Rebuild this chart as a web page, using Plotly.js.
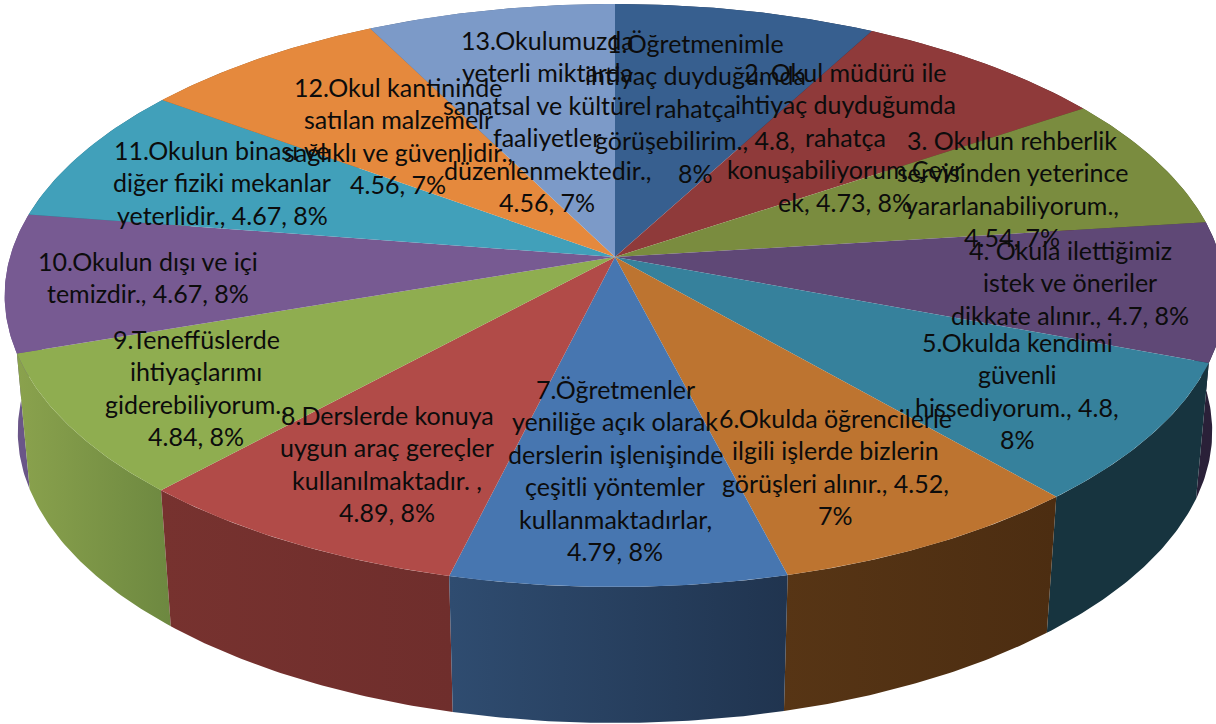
<!DOCTYPE html>
<html>
<head>
<meta charset="utf-8">
<script src="https://cdn.plot.ly/plotly-3.0.1.min.js"></script>
<style>html,body{margin:0;padding:0;background:#fff}#chart{width:1216px;height:724px}</style>
</head>
<body>
<div id="chart"></div>
<script>
// Data
const values = [4.8, 4.73, 4.54, 4.7, 4.8, 4.52, 4.79, 4.89, 4.84, 4.67, 4.67, 4.56, 4.56];
const labelLines = [
  ["1.Öğretmenimle", "ihtiyaç duyduğumda", "rahatça", "görüşebilirim., 4.8,", "8%"],
  ["2. Okul müdürü ile", "ihtiyaç duyduğumda", "rahatça", "konuşabiliyorum.Çeyr", "ek, 4.73, 8%"],
  ["3. Okulun rehberlik", "servisinden yeterince", "yararlanabiliyorum.,", "4.54, 7%"],
  ["4. Okula ilettiğimiz", "istek ve öneriler", "dikkate alınır., 4.7, 8%"],
  ["5.Okulda kendimi", "güvenli", "hissediyorum., 4.8,", "8%"],
  ["6.Okulda öğrencilerle", "ilgili işlerde bizlerin", "görüşleri alınır., 4.52,", "7%"],
  ["7.Öğretmenler", "yeniliğe açık olarak", "derslerin işlenişinde", "çeşitli yöntemler", "kullanmaktadırlar,", "4.79, 8%"],
  ["8.Derslerde konuya", "uygun araç gereçler", "kullanılmaktadır. ,", "4.89, 8%"],
  ["9.Teneffüslerde", "ihtiyaçlarımı", "giderebiliyorum.,", "4.84, 8%"],
  ["10.Okulun dışı ve içi", "temizdir., 4.67, 8%"],
  ["11.Okulun binası ve", "diğer fiziki mekanlar", "yeterlidir., 4.67, 8%"],
  ["12.Okul kantininde", "satılan malzemelr", "sağlıklı ve güvenlidir.,", "4.56, 7%"],
  ["13.Okulumuzda", "yeterli miktarda", "sanatsal ve kültürel", "faaliyetler", "düzenlenmektedir.,", "4.56, 7%"]
];
const topColors = ["#375f8f","#8f3a3a","#7a8c3f","#5f4876","#36819c","#bd7430","#4776b0","#b14b48","#8fad50","#775a92","#41a0ba","#e5893d","#7c9ac8"];
const wallLeft  = ["#1f3350","#5c2626","#4f5b29","#2a2038","#17343f","#573515","#2f4c70","#77322f","#8aa24d","#6a5688","#2b6b7d","#9a5c28","#53688a"];
const wallRight = ["#1f3350","#5c2626","#4f5b29","#2a2038","#17343f","#4c2d11","#20344f","#6f2e2c","#6d8840","#6a5688","#2b6b7d","#9a5c28","#53688a"];

// Label anchors
const labelX = [695, 845, 1012, 1070, 1017, 835, 615, 387, 196, 148, 222, 398, 547];
const labelFirstY = [43, 72, 140, 250, 342, 418, 389, 415, 339, 261, 150, 87, 40];
const lineStep = 32.4;

// Perspective disc geometry on a pixel-sized data space
const cx = 615, topCy = 257, wallCy = 393, persp = 0.132, topA = 605, wallA = 592, depthB = 286.4;
function rim(theta, a, cy) {
  const u = Math.sin(theta), v = Math.cos(theta), w = 1 + persp * v;
  return [cx + a * u / w, cy - depthB * v / w];
}
const total = values.reduce((s, v) => s + v, 0);
let acc = 0;
const spans = values.map(v => { const s = acc; acc += v; return [s / total * 2 * Math.PI, acc / total * 2 * Math.PI]; });
function arc(span, a, cy) {
  const pts = [], n = 48;
  for (let i = 0; i <= n; i++) pts.push(rim(span[0] + (span[1] - span[0]) * i / n, a, cy));
  return pts;
}
const drawOrder = [0, 12, 1, 11, 2, 10, 3, 9, 4, 8, 5, 7, 6];
const traces = [];
drawOrder.forEach(i => {
  const pts = arc(spans[i], topA, topCy).concat(arc(spans[i], wallA, wallCy).reverse());
  pts.push(pts[0]);
  const wall = {
    type: "scatter", mode: "lines", x: pts.map(p => p[0]), y: pts.map(p => p[1]),
    fill: "toself", line: {width: 0, color: wallLeft[i]},
    hoverinfo: "skip", showlegend: false
  };
  if (wallLeft[i] === wallRight[i]) wall.fillcolor = wallLeft[i];
  else wall.fillgradient = {type: "horizontal", colorscale: [[0, wallLeft[i]], [1, wallRight[i]]]};
  traces.push(wall);
});
values.forEach((v, i) => {
  const pts = [[cx, topCy]].concat(arc(spans[i], topA, topCy)); pts.push([cx, topCy]);
  traces.push({
    type: "scatter", mode: "lines", x: pts.map(p => p[0]), y: pts.map(p => p[1]),
    fill: "toself", fillcolor: topColors[i], line: {width: 0, color: topColors[i]},
    name: labelLines[i].join(" "), hovertemplate: v + "<extra></extra>", showlegend: false
  });
});
const annotations = [];
labelLines.forEach((lines, i) => lines.forEach((t, j) => annotations.push({
  x: labelX[i], y: labelFirstY[i] + j * lineStep, xref: "x", yref: "y",
  text: t, showarrow: false, xanchor: "center", yanchor: "middle",
  font: {family: "Lato, 'Open Sans', sans-serif", size: 25, color: "#0c0c0c"}
})));
Plotly.newPlot("chart", traces, {
  width: 1216, height: 724, margin: {l: 0, r: 0, t: 0, b: 0},
  paper_bgcolor: "#fff", plot_bgcolor: "#fff",
  xaxis: {range: [0, 1216], visible: false, fixedrange: true},
  yaxis: {range: [724, 0], visible: false, fixedrange: true},
  annotations: annotations, showlegend: false
}, {displayModeBar: false, staticPlot: false});
</script>
</body>
</html>
